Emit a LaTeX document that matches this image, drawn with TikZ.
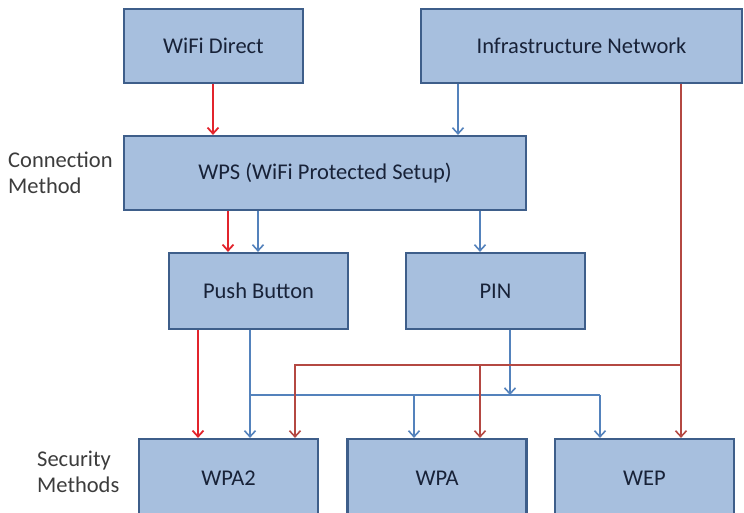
\documentclass[tikz,border=0pt]{standalone}
\usepackage{fontspec}
\setmainfont{Carlito}
\usepackage{tikz}
\usetikzlibrary{arrows.meta,calc}
\definecolor{boxfill}{RGB}{167,191,222}
\definecolor{boxdraw}{RGB}{62,94,138}
\definecolor{boxtext}{RGB}{24,34,56}
\definecolor{redline}{RGB}{226,36,44}
\definecolor{brownline}{RGB}{180,72,66}
\definecolor{blueline}{RGB}{84,130,188}
\definecolor{labeltext}{RGB}{60,60,60}

\begin{document}
\begin{tikzpicture}[x=1pt,y=-1pt,>={Straight Barb[length=6pt,width=11pt]},
    font=\fontsize{22.5}{26}\selectfont,
    box/.style={draw=boxdraw,line width=2.2pt,fill=boxfill,text=boxtext,
      inner sep=0pt,minimum width=179pt,minimum height=74pt},
    lbl/.style={anchor=west,align=left,text=labeltext,inner sep=0pt},
    redarr/.style={->,redline,line width=1.8pt},
    bluearr/.style={->,blueline,line width=1.6pt},
    brownarr/.style={->,brownline,line width=1.6pt}]
  \useasboundingbox (0,0) rectangle (744,512);
  \clip (0,0) rectangle (744,512);
  % boxes
  \node[box] (wifi) at (213.5,46) {WiFi Direct};
  \node[box,minimum width=321pt] (infra) at (581.5,46) {Infrastructure Network};
  \node[box,minimum width=402pt] (wps) at (325,173) {WPS (WiFi Protected Setup)};
  \node[box,minimum height=76pt] (pb) at (258.5,291) {Push Button};
  \node[box,minimum height=76pt] (pin) at (495.5,291) {PIN};
  \node[box,minimum height=78pt] (wpa2) at (228.5,478) {WPA2};
  \node[box,minimum height=78pt] (wpa) at (437,478) {WPA};
  \node[box,minimum height=78pt] (wep) at (644.5,478) {WEP};
  % side labels
  \node[lbl] (conn) at (8,173) {Connection\\Method};
  \node[lbl] (sec) at (37,472) {Security\\Methods};
  % columns and rails for the connectors
  \coordinate (c0) at (213,0);
  \coordinate (c1) at (458,0);
  \coordinate (c2) at (228,0);
  \coordinate (c3) at (258,0);
  \coordinate (c4) at (480,0);
  \coordinate (c5) at (198,0);
  \coordinate (c6) at (250,0);
  \coordinate (c7) at (414,0);
  \coordinate (c8) at (600,0);
  \coordinate (c9) at (510,0);
  \coordinate (c10) at (681,0);
  \coordinate (c11) at (295,0);
  \coordinate (bus) at (0,395);
  \coordinate (rail) at (0,365);
  % top level
  \draw[redarr] (wifi.south -| c0) -- (wps.north -| c0);
  \draw[bluearr] (infra.south -| c1) -- (wps.north -| c1);
  % WPS to its methods
  \draw[redarr] (wps.south -| c2) -- (pb.north -| c2);
  \draw[bluearr] (wps.south -| c3) -- (pb.north -| c3);
  \draw[bluearr] (wps.south -| c4) -- (pin.north -| c4);
  % push button and PIN
  \draw[redarr] (pb.south -| c5) -- (wpa2.north -| c5);
  \draw[bluearr] (pb.south -| c6) -- (wpa2.north -| c6);
  \draw[blueline,line width=1.6pt] (c6 |- bus) -- (c8 |- bus);
  \draw[bluearr] (c7 |- bus) -- (wpa.north -| c7);
  \draw[bluearr] (c8 |- bus) -- (wep.north -| c8);
  \draw[bluearr] (pin.south -| c9) -- (c9 |- bus);
  % infrastructure to all security methods
  \draw[brownarr] (infra.south -| c10) -- (wep.north -| c10);
  \draw[brownarr] (c10 |- rail) -- (c11 |- rail) -- (wpa2.north -| c11);
  \draw[brownarr] (c4 |- rail) -- (wpa.north -| c4);
\end{tikzpicture}
\end{document}
